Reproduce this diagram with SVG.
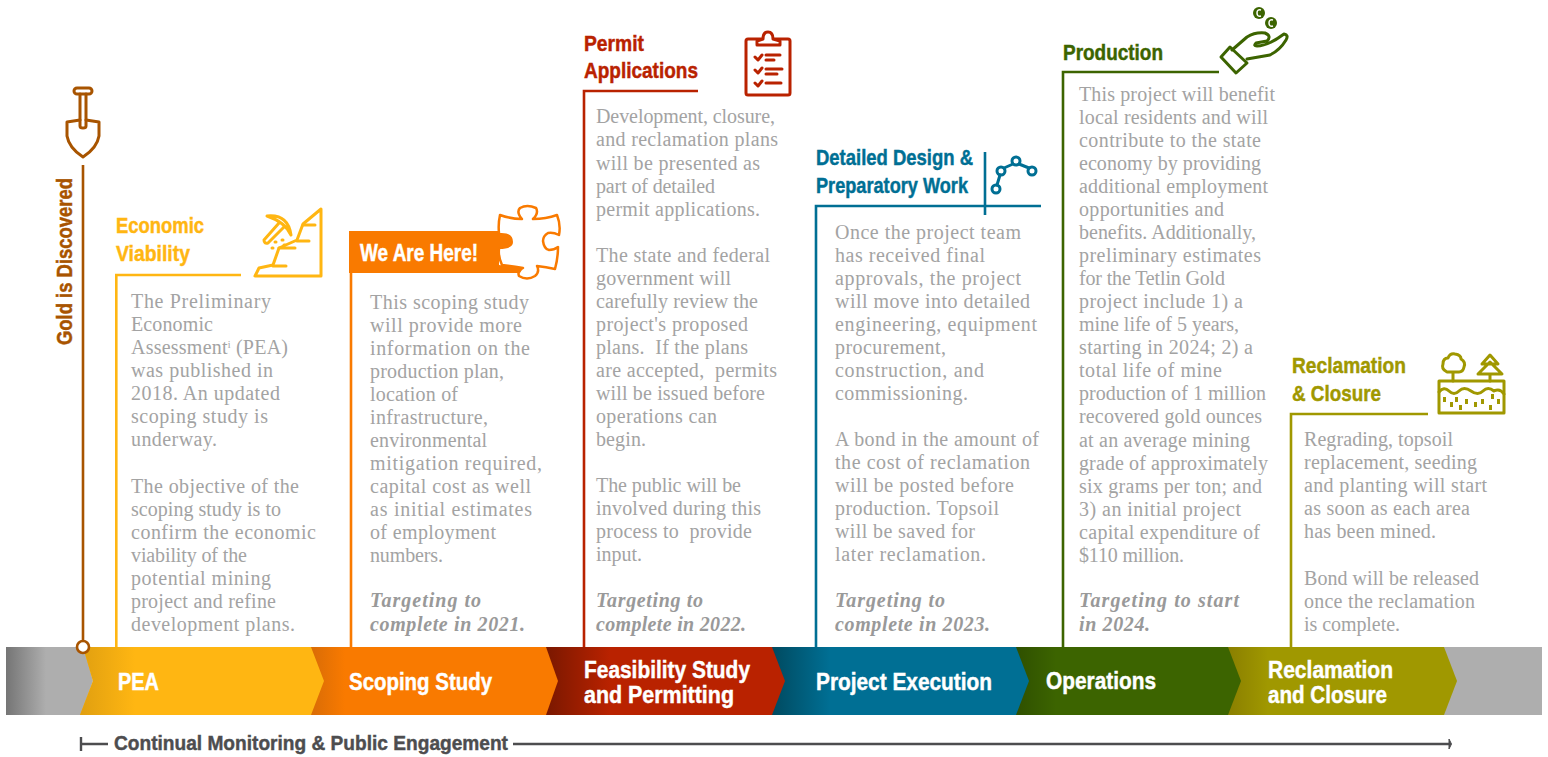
<svg xmlns="http://www.w3.org/2000/svg" width="1548" height="757" viewBox="0 0 1548 757">
<style>
.b{font-family:"Liberation Serif",serif;font-size:20px;fill:#a3a3a3}
.t{font-family:"Liberation Serif",serif;font-size:20px;font-weight:bold;font-style:italic;fill:#999}
.h{font-family:"Liberation Sans",Arial,sans-serif;font-size:22px;font-weight:bold;fill:currentColor;stroke:currentColor;stroke-width:.45}
.w{color:#fff;font-size:24px}
.line{fill:none;stroke-width:2.6}
.ic{fill:none;stroke-width:3;stroke-linejoin:round;stroke-linecap:round}
</style>
<defs>
<linearGradient id="gGray" x1="0" x2="1" y1="0" y2="0"><stop offset="0" stop-color="#757575"/><stop offset="1" stop-color="#aeaeae"/></linearGradient>
<linearGradient id="gGold" x1="0" x2="1" y1="0" y2="0"><stop offset="0" stop-color="#e09f10"/><stop offset="1" stop-color="#ffb612"/></linearGradient>
<linearGradient id="gOrange" x1="0" x2="1" y1="0" y2="0"><stop offset="0" stop-color="#d96c06"/><stop offset="1" stop-color="#f97a00"/></linearGradient>
<linearGradient id="gRed" x1="0" x2="1" y1="0" y2="0"><stop offset="0" stop-color="#7a1800"/><stop offset="1" stop-color="#b92200"/></linearGradient>
<linearGradient id="gBlue" x1="0" x2="1" y1="0" y2="0"><stop offset="0" stop-color="#004a60"/><stop offset="1" stop-color="#006f94"/></linearGradient>
<linearGradient id="gGreen" x1="0" x2="1" y1="0" y2="0"><stop offset="0" stop-color="#2f5000"/><stop offset="1" stop-color="#3c6400"/></linearGradient>
<linearGradient id="gOlive" x1="0" x2="1" y1="0" y2="0"><stop offset="0" stop-color="#8a7f00"/><stop offset="1" stop-color="#a09800"/></linearGradient>
</defs>

<g id="bar">
<rect x="1440" y="647" width="102" height="68" fill="#aeaeae"/>
<path d="M1228 647H1444L1457 681L1444 715H1228Z" fill="#a09800"/>
<rect x="1228" y="647" width="40" height="68" fill="url(#gOlive)"/>
<path d="M1016 647H1228L1241 681L1228 715H1016Z" fill="#3c6400"/>
<path d="M1016 647H1056V715H1016Z" fill="url(#gGreen)"/>
<path d="M772 647H1016L1029 681L1016 715H772Z" fill="#006f94"/>
<path d="M772 647H830V715H772Z" fill="url(#gBlue)"/>
<path d="M546 647H772L785 681L772 715H546Z" fill="#b92200"/>
<path d="M546 647H610V715H546Z" fill="url(#gRed)"/>
<path d="M311 647H546L558 681L546 715H311Z" fill="#f97a00"/>
<path d="M311 647H345V715H311Z" fill="url(#gOrange)"/>
<path d="M6 647H84L93 681L81 715H6Z" fill="#aeaeae"/>
<rect x="6" y="647" width="40" height="68" fill="url(#gGray)"/>
<path d="M83 647H311L324 681L311 715H80L93 681Z" fill="#ffb612"/>
<path d="M83 647H135V715H80L93 681Z" fill="url(#gGold)"/>
</g>

<g id="connectors">
<path class="line" stroke="#a85400" d="M83 165V641"/>
<path class="line" stroke="#ffb612" d="M241 275H116.300V647"/>
<path class="line" stroke="#f97a00" d="M351 270V647"/>
<path class="line" stroke="#b92200" d="M698 91H584V647"/>
<path class="line" stroke="#006f94" d="M1041 206H816V647M985 152V215"/>
<path class="line" stroke="#3c6400" d="M1219 72H1063V647"/>
<path class="line" stroke="#a09800" d="M1428 414H1291V647"/>
<path d="M81 737V751M81 744H108M513 744H1449" fill="none" stroke="#4d4d4f" stroke-width="2.400"/>
<path d="M1449 739L1451.500 744L1449 749Z" fill="#4d4d4f" stroke="#4d4d4f"/>
</g>

<g id="bar-labels">
<text class="h w" x="118" y="690" textLength="41" lengthAdjust="spacingAndGlyphs">PEA</text>
<text class="h w" x="349" y="690" textLength="143" lengthAdjust="spacingAndGlyphs">Scoping Study</text>
<text class="h w" x="584" y="678" textLength="166" lengthAdjust="spacingAndGlyphs">Feasibility Study</text>
<text class="h w" x="584" y="703" textLength="150" lengthAdjust="spacingAndGlyphs">and Permitting</text>
<text class="h w" x="816" y="690" textLength="176" lengthAdjust="spacingAndGlyphs">Project Execution</text>
<text class="h w" x="1046" y="689" textLength="110" lengthAdjust="spacingAndGlyphs">Operations</text>
<text class="h w" x="1268" y="678" textLength="125" lengthAdjust="spacingAndGlyphs">Reclamation</text>
<text class="h w" x="1268" y="703" textLength="119" lengthAdjust="spacingAndGlyphs">and Closure</text>
</g>

<g id="monitoring">
<text class="h" x="114" y="750" textLength="394" lengthAdjust="spacingAndGlyphs" style="font-size:21px" color="#4d4d4f">Continual Monitoring &amp; Public Engagement</text>
</g>

<g id="gold-discovered">
<circle cx="83" cy="647" r="6" fill="#fff" stroke="#a85400" stroke-width="2.600"/>
<text class="h" transform="translate(72,345) rotate(-90)" textLength="167" lengthAdjust="spacingAndGlyphs" color="#a85400">Gold is Discovered</text>
<g class="ic" stroke="#a85400">
<rect x="74" y="88" width="18" height="6" rx="3"/>
<path d="M80 94V126Q80 128 83 128Q86 128 86 126V94"/>
<path d="M80 120L67 122V136Q69 148 83 157Q97 148 99 136V122L86 120"/>
</g>
</g>

<g id="pea">
<text class="h" x="116" y="233" textLength="88" lengthAdjust="spacingAndGlyphs" color="#ffb612">Economic</text>
<text class="h" x="116" y="261" textLength="74" lengthAdjust="spacingAndGlyphs" color="#ffb612">Viability</text>
<g class="ic" stroke="#ffb612">
<path d="M255 276H321V209L303 224L297 240L279 248L273 265L259 268Z"/>
<path d="M303 225H315M297 241H309M279 248H295M273 266H286"/>
<path d="M267 216Q288 214 291 235Q285 222 267 216Z"/>
<path d="M279 223L264 240Q264 244 268 243L284 227"/>
<path d="M275 242h1M282 240h1M272 248h1M284 245h1"/>
</g>
<text class="b" x="131" y="308" textLength="140">The Preliminary</text>
<text class="b" x="131" y="331" textLength="82">Economic</text>
<text class="b" x="131" y="354" textLength="157">Assessment<tspan font-size="10" dy="-6">i</tspan><tspan dy="6"> (PEA)</tspan></text>
<text class="b" x="131" y="377" textLength="142">was published in</text>
<text class="b" x="131" y="400" textLength="149">2018. An updated</text>
<text class="b" x="131" y="423" textLength="137">scoping study is</text>
<text class="b" x="131" y="446" textLength="86">underway.</text>
<text class="b" x="131" y="493" textLength="168">The objective of the</text>
<text class="b" x="131" y="516" textLength="150">scoping study is to</text>
<text class="b" x="131" y="539" textLength="185">confirm the economic</text>
<text class="b" x="131" y="562" textLength="116">viability of the</text>
<text class="b" x="131" y="585" textLength="140">potential mining</text>
<text class="b" x="131" y="608" textLength="145">project and refine</text>
<text class="b" x="131" y="631" textLength="164">development plans.</text>
</g>

<g id="scoping">
<path d="M349 231H499V233Q513 232 513 242Q513 249 499 249V265L523 268L520 273H349Z" fill="#f97a00"/>
<path class="ic" stroke="#f97a00" stroke-width="2.500" style="stroke-width:2.500" d="M500 215Q511 219 522 219Q516 212 520 208Q527 204 536 208Q539 213 533 219Q546 219 557 215Q561 225 559 235Q553 232 548 233Q543 236 543 241Q544 249 549 250Q554 250 558 247Q558 258 555 269Q546 267 537 266Q540 272 535 276Q527 281 519 276Q517 271 523 268Q512 266 502 265Q498 256 499 249M499 233Q498 224 500 215"/>
<text class="h w" x="360" y="261" textLength="118" lengthAdjust="spacingAndGlyphs" style="font-size:23px">We Are Here!</text>
<text class="b" x="370" y="309" textLength="159">This scoping study</text>
<text class="b" x="370" y="332" textLength="152">will provide more</text>
<text class="b" x="370" y="355" textLength="160">information on the</text>
<text class="b" x="370" y="378" textLength="134">production plan,</text>
<text class="b" x="370" y="401" textLength="88">location of</text>
<text class="b" x="370" y="424" textLength="118">infrastructure,</text>
<text class="b" x="370" y="447" textLength="117">environmental</text>
<text class="b" x="370" y="470" textLength="172">mitigation required,</text>
<text class="b" x="370" y="493" textLength="161">capital cost as well</text>
<text class="b" x="370" y="516" textLength="162">as initial estimates</text>
<text class="b" x="370" y="539" textLength="126">of employment</text>
<text class="b" x="370" y="562" textLength="73">numbers.</text>
<text class="t" x="370" y="607" textLength="111">Targeting to</text>
<text class="t" x="370" y="631" textLength="155">complete in 2021.</text>
</g>

<g id="permit">
<text class="h" x="584" y="51" textLength="60" lengthAdjust="spacingAndGlyphs" color="#b92200">Permit</text>
<text class="h" x="584" y="78" textLength="114" lengthAdjust="spacingAndGlyphs" color="#b92200">Applications</text>
<g class="ic" stroke="#b92200">
<rect x="746" y="39" width="44" height="56" rx="2"/>
<path d="M757 45V41L763 39Q763 32 768 32Q773 32 773 39L780 41V45Z" fill="#fff"/>
<path d="M755 57L758 60L762 55M755 70L758 73L762 68M755 83L758 86L762 81"/>
<path d="M766 55H780M766 60H774M766 69H782M766 74H777M766 83H781"/>
</g>
<text class="b" x="596" y="123" textLength="179">Development, closure,</text>
<text class="b" x="596" y="146" textLength="182">and reclamation plans</text>
<text class="b" x="596" y="170" textLength="164">will be presented as</text>
<text class="b" x="596" y="193" textLength="119">part of detailed</text>
<text class="b" x="596" y="216" textLength="164">permit applications.</text>
<text class="b" x="596" y="262" textLength="174">The state and federal</text>
<text class="b" x="596" y="285" textLength="135">government will</text>
<text class="b" x="596" y="308" textLength="162">carefully review the</text>
<text class="b" x="596" y="331" textLength="152">project's proposed</text>
<text class="b" x="596" y="354" textLength="152" xml:space="preserve">plans.  If the plans</text>
<text class="b" x="596" y="377" textLength="181" xml:space="preserve">are accepted,  permits</text>
<text class="b" x="596" y="400" textLength="169">will be issued before</text>
<text class="b" x="596" y="423" textLength="121">operations can</text>
<text class="b" x="596" y="446" textLength="50">begin.</text>
<text class="b" x="596" y="492" textLength="145">The public will be</text>
<text class="b" x="596" y="515" textLength="165">involved during this</text>
<text class="b" x="596" y="538" textLength="156" xml:space="preserve">process to  provide</text>
<text class="b" x="596" y="561" textLength="46">input.</text>
<text class="t" x="596" y="607" textLength="107">Targeting to</text>
<text class="t" x="596" y="631" textLength="150">complete in 2022.</text>
</g>

<g id="detailed">
<text class="h" x="816" y="165" textLength="157" lengthAdjust="spacingAndGlyphs" color="#006f94">Detailed Design &amp;</text>
<text class="h" x="816" y="193" textLength="152" lengthAdjust="spacingAndGlyphs" color="#006f94">Preparatory Work</text>
<g class="ic" stroke="#006f94">
<circle cx="996" cy="189" r="4"/><circle cx="1001" cy="171" r="4"/><circle cx="1016" cy="161" r="4"/><circle cx="1032" cy="171" r="4"/>
<path d="M997 185L1000 175M1004 168L1013 164M1019 164L1029 168"/>
</g>
<text class="b" x="835" y="239" textLength="186">Once the project team</text>
<text class="b" x="835" y="262" textLength="150">has received final</text>
<text class="b" x="835" y="285" textLength="186">approvals, the project</text>
<text class="b" x="835" y="308" textLength="195">will move into detailed</text>
<text class="b" x="835" y="331" textLength="202">engineering, equipment</text>
<text class="b" x="835" y="354" textLength="111">procurement,</text>
<text class="b" x="835" y="377" textLength="149">construction, and</text>
<text class="b" x="835" y="400" textLength="133">commissioning.</text>
<text class="b" x="835" y="446" textLength="204">A bond in the amount of</text>
<text class="b" x="835" y="469" textLength="195">the cost of reclamation</text>
<text class="b" x="835" y="492" textLength="179">will be posted before</text>
<text class="b" x="835" y="515" textLength="164">production. Topsoil</text>
<text class="b" x="835" y="538" textLength="140">will be saved for</text>
<text class="b" x="835" y="561" textLength="151">later reclamation.</text>
<text class="t" x="835" y="607" textLength="110">Targeting to</text>
<text class="t" x="835" y="631" textLength="155">complete in 2023.</text>
</g>

<g id="production">
<text class="h" x="1063" y="60" textLength="100" lengthAdjust="spacingAndGlyphs" color="#3c6400">Production</text>
<g class="ic" stroke="#3c6400">
<path d="M1221 57L1230 47L1247 63L1236 73Z"/>
<path d="M1232 50L1247 37Q1255 32 1265 33Q1272 36 1267 41L1256 43Q1253 46 1257 46Q1268 46 1284 34Q1289 35 1286 40Q1280 50 1270 55L1247 59"/>
</g>
<circle cx="1259" cy="13" r="6" fill="#3c6400"/><circle cx="1271" cy="23" r="6" fill="#3c6400"/>
<path d="M1261 10Q1257 9 1257 13Q1257 17 1261 16M1273 20Q1269 19 1269 23Q1269 27 1273 26" stroke="#fff" stroke-width="1.500" fill="none"/>
<text class="b" x="1079" y="101" textLength="196">This project will benefit</text>
<text class="b" x="1079" y="124" textLength="189">local residents and will</text>
<text class="b" x="1079" y="147" textLength="182">contribute to the state</text>
<text class="b" x="1079" y="170" textLength="182">economy by providing</text>
<text class="b" x="1079" y="193" textLength="189">additional employment</text>
<text class="b" x="1079" y="216" textLength="145">opportunities and</text>
<text class="b" x="1079" y="239" textLength="177">benefits. Additionally,</text>
<text class="b" x="1079" y="262" textLength="182">preliminary estimates</text>
<text class="b" x="1079" y="285" textLength="146">for the Tetlin Gold</text>
<text class="b" x="1079" y="308" textLength="164">project include 1) a</text>
<text class="b" x="1079" y="331" textLength="160">mine life of 5 years,</text>
<text class="b" x="1079" y="354" textLength="174">starting in 2024; 2) a</text>
<text class="b" x="1079" y="377" textLength="143">total life of mine</text>
<text class="b" x="1079" y="400" textLength="187">production of 1 million</text>
<text class="b" x="1079" y="423" textLength="183">recovered gold ounces</text>
<text class="b" x="1079" y="447" textLength="171">at an average mining</text>
<text class="b" x="1079" y="470" textLength="189">grade of approximately</text>
<text class="b" x="1079" y="493" textLength="183">six grams per ton; and</text>
<text class="b" x="1079" y="516" textLength="162">3) an initial project</text>
<text class="b" x="1079" y="539" textLength="181">capital expenditure of</text>
<text class="b" x="1079" y="562" textLength="105">$110 million.</text>
<text class="t" x="1079" y="607" textLength="160">Targeting to start</text>
<text class="t" x="1079" y="631" textLength="71">in 2024.</text>
</g>

<g id="reclamation">
<text class="h" x="1292" y="373" textLength="114" lengthAdjust="spacingAndGlyphs" color="#a09800">Reclamation</text>
<text class="h" x="1292" y="401" textLength="89" lengthAdjust="spacingAndGlyphs" color="#a09800">&amp; Closure</text>
<g class="ic" stroke="#a09800">
<rect x="1439" y="381" width="65" height="32" stroke-linecap="butt"/>
<path d="M1453 381V373M1447 372Q1441 369 1443 364Q1443 358 1448 358Q1450 353 1455 354Q1461 355 1461 359Q1466 362 1464 367Q1463 372 1459 372Z"/>
<path d="M1490 381V375M1490 355L1498 364H1482ZM1490 362L1502 374H1478Z"/>
<path d="M1439 392Q1444 386 1449 391T1459 391T1471 391T1483 391T1494 391Q1500 388 1504 394"/>
</g>
<path d="M1443 397h3v5h-3zM1450 402h3v5h-3zM1455 397h3v5h-3zM1459 405h3v5h-3zM1465 399h3v5h-3zM1474 402h3v5h-3zM1481 399h3v5h-3zM1489 405h3v5h-3zM1491 394h3v5h-3zM1497 399h3v5h-3z" fill="#a09800"/>
<text class="b" x="1304" y="446" textLength="149">Regrading, topsoil</text>
<text class="b" x="1304" y="469" textLength="173">replacement, seeding</text>
<text class="b" x="1304" y="492" textLength="183">and planting will start</text>
<text class="b" x="1304" y="515" textLength="166">as soon as each area</text>
<text class="b" x="1304" y="538" textLength="132">has been mined.</text>
<text class="b" x="1304" y="585" textLength="175">Bond will be released</text>
<text class="b" x="1304" y="608" textLength="171">once the reclamation</text>
<text class="b" x="1304" y="631" textLength="96">is complete.</text>
</g>
</svg>
